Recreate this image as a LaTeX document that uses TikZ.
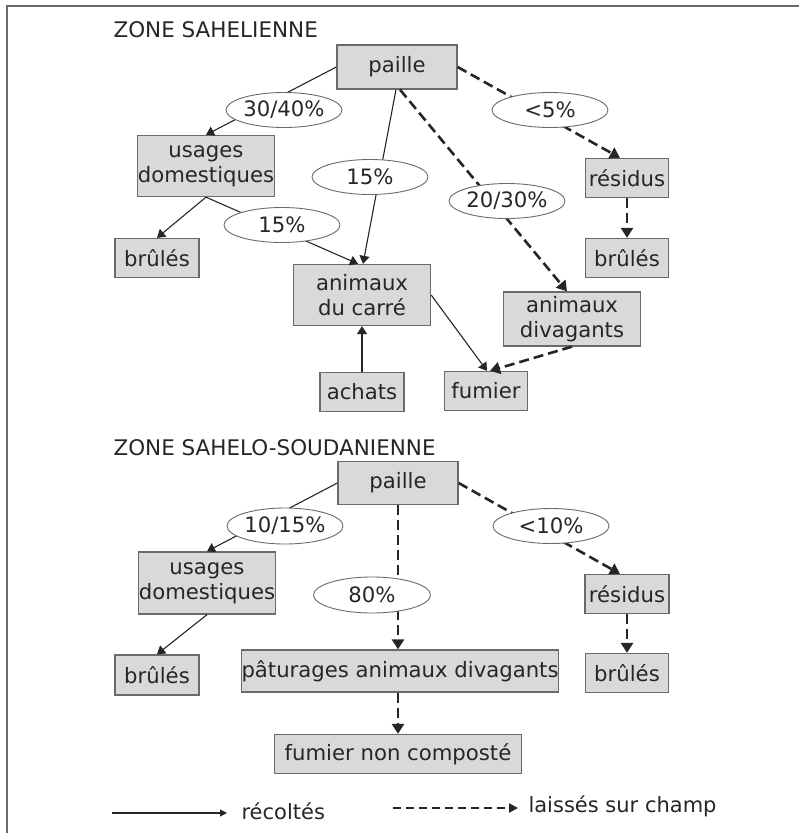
\documentclass[tikz,border=0pt]{standalone}
\usepackage{fontspec}
\setmainfont{DejaVu Sans}
\usetikzlibrary{arrows.meta,shapes.geometric}
\definecolor{boite}{HTML}{D9D9D9}
\definecolor{bord}{HTML}{6A6A6A}
\definecolor{trait}{HTML}{262626}
\begin{document}
\begin{tikzpicture}[x=1pt,y=-1pt,
	box/.style={draw=bord,line width=1.3pt,fill=boite,inner sep=0pt,align=center,
		font=\fontsize{21.2}{25}\selectfont,text=trait},
	pct/.style={ellipse,draw=bord,line width=0.9pt,fill=white,inner sep=0pt,
		minimum width=116pt,minimum height=35pt,font=\fontsize{21.2}{25}\selectfont,text=trait},
	recolte/.style={draw=trait,line width=1.1pt,-{Triangle[length=8pt,width=10pt]}},
	champ/.style={draw=trait,line width=2.6pt,dash pattern=on 10pt off 5pt,-{Triangle[length=10pt,width=12pt]}},
	titre/.style={anchor=west,font=\fontsize{21.5}{25}\selectfont,text=trait}]
	\useasboundingbox (0,0) rectangle (799,833);
	\fill[white] (0,0) rectangle (799,833);
	\draw[bord,line width=2.5pt] (7,833) -- (7,6) -- (799,6);

	% zone sahelienne
	\node[titre] (titreA) at (110,30) {ZONE SAHELIENNE};
	\node[box,minimum width=120pt,minimum height=44pt] (pailleA) at (397,67) {paille};
	\node[box,minimum width=136pt,minimum height=61pt] (usagesA) at (206,166) {usages\\domestiques};
	\node[box,minimum width=84pt,minimum height=39pt] (brulesA) at (157,258) {brûlés};
	\node[box,minimum width=137pt,minimum height=61pt] (carre) at (362,295) {animaux\\du carré};
	\node[box,minimum width=84pt,minimum height=39pt] (achats) at (362,392) {achats};
	\node[box,minimum width=83pt,minimum height=39pt] (residusA) at (627,178) {résidus};
	\node[box,minimum width=83pt,minimum height=39pt] (brulesB) at (627,258) {brûlés};
	\node[box,minimum width=137pt,minimum height=54pt] (divagants) at (572,319) {animaux\\divagants};
	\node[box,minimum width=83pt,minimum height=39pt] (fumierA) at (486,391) {fumier};

	\draw[recolte] (pailleA.west) -- (usagesA.north);
	\draw[recolte] (usagesA.south) -- (brulesA.north);
	\draw[recolte] (usagesA.south) -- ([xshift=-4pt]carre.north);
	\draw[recolte] ([xshift=-1pt]pailleA.south) -- ([xshift=1pt]carre.north);
	\draw[recolte] (carre.east) -- ([xshift=1pt]fumierA.north);
	\draw[recolte] (achats.north) -- (carre.south);
	\draw[champ] (pailleA.east) -- ([xshift=-7pt]residusA.north);
	\draw[champ] ([xshift=3pt]pailleA.south) -- ([xshift=-5pt]divagants.north);
	\draw[champ] (divagants.south) -- ([xshift=4pt]fumierA.north);
	\draw[champ] (residusA.south) -- (brulesB.north);

	\node[pct] (pA) at (284,110) {30/40\%};
	\node[pct] (pB) at (282,225) {15\%};
	\node[pct] (pC) at (370,177) {15\%};
	\node[pct] (pD) at (550,110) {<5\%};
	\node[pct] (pE) at (507,201) {20/30\%};

	% zone sahelo-soudanienne
	\node[titre] (titreB) at (110,448) {ZONE SAHELO-SOUDANIENNE};
	\node[box,minimum width=120pt,minimum height=43pt] (pailleB) at (398,483) {paille};
	\node[box,minimum width=137pt,minimum height=62pt] (usagesB) at (207,583) {usages\\domestiques};
	\node[box,minimum width=84pt,minimum height=40pt] (brulesC) at (157,675) {brûlés};
	\node[box,minimum width=314pt,minimum height=42pt] (paturages) at (400,671) {pâturages animaux divagants};
	\node[box,minimum width=247pt,minimum height=39pt] (fumierB) at (398,754) {fumier non composté};
	\node[box,minimum width=84pt,minimum height=39pt] (residusB) at (627,594) {résidus};
	\node[box,minimum width=83pt,minimum height=39pt] (brulesD) at (627,673) {brûlés};

	\draw[recolte] (pailleB.west) -- (usagesB.north);
	\draw[recolte] (usagesB.south) -- (brulesC.north);
	\draw[champ] (pailleB.south) -- (pailleB.south |- paturages.north);
	\draw[champ] (paturages.south -| fumierB.north) -- (fumierB.north);
	\draw[champ] (pailleB.east) -- ([xshift=-7pt]residusB.north);
	\draw[champ] (residusB.south) -- (brulesD.north);

	\node[pct,minimum height=36pt] (pF) at (285,526) {10/15\%};
	\node[pct,minimum height=36pt,minimum width=117pt] (pG) at (372,595) {80\%};
	\node[pct] (pH) at (551,526) {<10\%};

	% legende
	\coordinate (legA) at (112,813);
	\coordinate (legB) at (227,813);
	\coordinate (legC) at (393,808);
	\coordinate (legD) at (518,808);
	\draw[trait,line width=1.1pt,-{Triangle[length=7pt,width=7pt]}] (legA) -- (legB);
	\node[anchor=west,font=\fontsize{21}{25}\selectfont,text=trait] (recoltes) at (238,811) {récoltés};
	\draw[trait,line width=2.2pt,dash pattern=on 8pt off 5pt,-{Triangle[length=9pt,width=9pt]}] (legC) -- (legD);
	\node[anchor=west,font=\fontsize{21}{25}\selectfont,text=trait] (laisses) at (525,806) {laissés sur champ};
\end{tikzpicture}
\end{document}
